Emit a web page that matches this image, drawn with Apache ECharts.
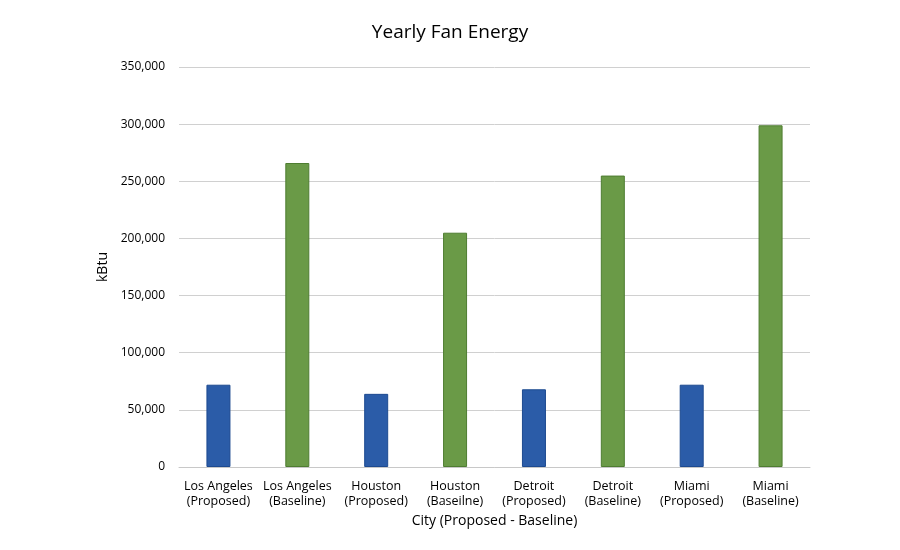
<!DOCTYPE html>
<html>
<head>
<meta charset="utf-8">
<script src="https://cdn.jsdelivr.net/npm/echarts@6/dist/echarts.min.js"></script>
<style>
    html, body { margin: 0; padding: 0; background: #fff; }
    #chart { width: 900px; height: 550px; }
</style>
</head>
<body>
<div id="chart"></div>
<script>
const categories = [
    'Los Angeles\n(Proposed)', 'Los Angeles\n(Baseline)',
    'Houston\n(Proposed)', 'Houston\n(Baseilne)',
    'Detroit\n(Proposed)', 'Detroit\n(Baseline)',
    'Miami\n(Proposed)', 'Miami\n(Baseline)'
];
const fanEnergy = [72000, 266000, 64000, 205000, 68000, 255000, 72000, 299000];
const isBaseline = [false, true, false, true, false, true, false, true];

const blue = { color: '#2b5ca8', borderColor: '#1d4a90' };
const green = { color: '#6a9a47', borderColor: '#4e7d31' };

const font = '"Open Sans", "Noto Sans", sans-serif';

const myChart = echarts.init(document.getElementById('chart'));

const option = {
    animation: false,
    title: {
        text: 'Yearly Fan Energy',
        left: 'center',
        top: 18,
        textStyle: { fontFamily: font, fontSize: 19, fontWeight: 'normal', color: '#000' }
    },
    grid: {
        left: 179,
        right: 90,
        top: 67,
        bottom: 83
    },
    xAxis: {
        type: 'category',
        data: categories,
        name: 'City (Proposed - Baseline)',
        nameLocation: 'middle',
        nameGap: 46,
        nameTextStyle: { fontFamily: font, fontSize: 14, color: '#000' },
        axisLine: { lineStyle: { color: '#c8c8c8' } },
        axisTick: { show: false },
        axisLabel: {
            interval: 0,
            margin: 12,
            lineHeight: 15,
            fontFamily: font,
            fontSize: 12.5,
            color: '#000'
        }
    },
    yAxis: {
        type: 'value',
        min: 0,
        max: 350000,
        interval: 50000,
        name: 'kBtu',
        nameLocation: 'middle',
        nameGap: 63,
        nameTextStyle: { fontFamily: font, fontSize: 14, color: '#000' },
        axisLine: { show: false },
        axisTick: { show: false },
        axisLabel: {
            margin: 14,
            fontFamily: font,
            fontSize: 12,
            color: '#000',
            formatter: v => v.toLocaleString('en-US')
        },
        splitLine: { lineStyle: { color: '#d0d0d0' } }
    },
    series: [
        {
            type: 'bar',
            barWidth: 24,
            data: fanEnergy.map((v, i) => ({
                value: v,
                itemStyle: Object.assign({ borderWidth: 1 }, isBaseline[i] ? green : blue)
            }))
        }
    ]
};
myChart.setOption(option);
</script>
</body>
</html>
